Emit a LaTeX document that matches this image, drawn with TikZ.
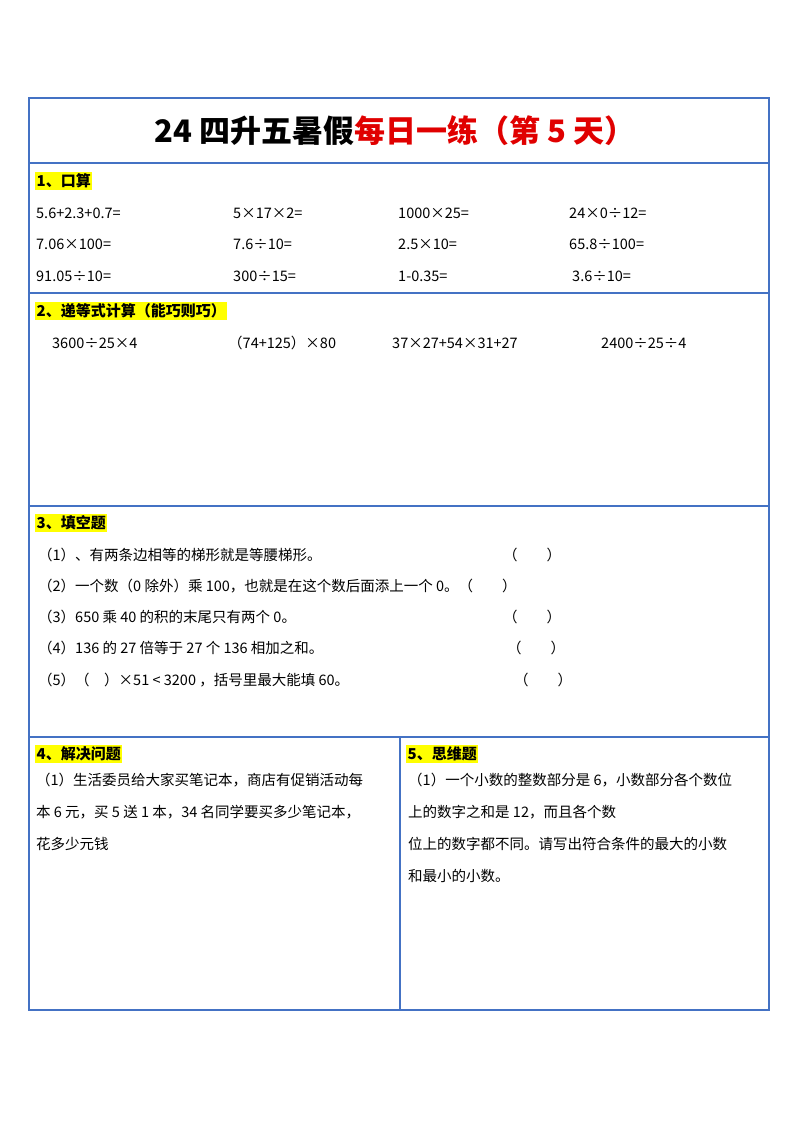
\documentclass[tikz,border=0pt]{standalone}
\usepackage{fontspec}
\setmainfont{Noto Sans CJK SC}
\definecolor{bl}{HTML}{4472C4}
\definecolor{hl}{HTML}{FFFF00}
\definecolor{rd}{HTML}{E00000}
\begin{document}
\begin{tikzpicture}[x=1pt,y=-1pt,
  hd/.style={fill=hl,inner sep=1.5pt,anchor=west,font=\fontsize{15}{17}\selectfont\bfseries},
  tx/.style={inner sep=0pt,anchor=west,font=\fontsize{14.5}{16}\selectfont},
  pp/.style={inner sep=0pt,anchor=north west,align=left,font=\fontsize{14.5}{32}\selectfont},
  bd/.style={draw=bl,line width=2.2pt}]
\useasboundingbox (0,0) rectangle (800,1132);
\draw[bd] (29,98) rectangle (769,1010);
\draw[bd] (29,163) -- (769,163);
\draw[bd] (29,293) -- (769,293);
\draw[bd] (29,506) -- (769,506);
\draw[bd] (29,737) -- (769,737);
\draw[bd] (400,737) -- (400,1010);
\node[inner sep=0pt,font=\fontsize{31}{34}\selectfont\bfseries] (title) at (395,131) {24 四升五暑假\textcolor{rd}{每日一练（第 5 天）}};
\node[hd] (h1) at (35,181) {1、口算};
\node[tx] (a1) at (36,213) {5.6+2.3+0.7=};
\node[tx] (a2) at (233,213) {5×17×2=};
\node[tx] (a3) at (398,213) {1000×25=};
\node[tx] (a4) at (569,213) {24×0÷12=};
\node[tx] (b1) at (36,244) {7.06×100=};
\node[tx] (b2) at (233,244) {7.6÷10=};
\node[tx] (b3) at (398,244) {2.5×10=};
\node[tx] (b4) at (569,244) {65.8÷100=};
\node[tx] (c1) at (36,276) {91.05÷10=};
\node[tx] (c2) at (233,276) {300÷15=};
\node[tx] (c3) at (398,276) {1-0.35=};
\node[tx] (c4) at (572,276) {3.6÷10=};
\node[hd] (h2) at (35,311) {2、递等式计算（能巧则巧）};
\node[tx] (d1) at (52,343) {3600÷25×4};
\node[tx] (d2) at (228,343) {（74+125）×80};
\node[tx] (d3) at (392,343) {37×27+54×31+27};
\node[tx] (d4) at (601,343) {2400÷25÷4};
\node[hd] (h3) at (35,523) {3、填空题};
\node[tx] (e1) at (38,555) {（1）、有两条边相等的梯形就是等腰梯形。};
\node[tx] (e1b) at (503,555) {（\qquad）};
\node[tx] (e2) at (38,586) {（2）一个数（0 除外）乘 100，也就是在这个数后面添上一个 0。（\qquad）};
\node[tx] (e3) at (38,617) {（3）650 乘 40 的积的末尾只有两个 0。};
\node[tx] (e3b) at (503,617) {（\qquad）};
\node[tx] (e4) at (38,648) {（4）136 的 27 倍等于 27 个 136 相加之和。};
\node[tx] (e4b) at (507,648) {（\qquad）};
\node[tx] (e5) at (38,680) {（5）（\quad）×51 < 3200 ，括号里最大能填 60。};
\node[tx] (e5b) at (514,680) {（\qquad）};
\node[hd] (h4) at (35,754) {4、解决问题};
\node[pp] (p4) at (36,773) {（1）生活委员给大家买笔记本，商店有促销活动每\\本 6 元，买 5 送 1 本，34 名同学要买多少笔记本，\\花多少元钱};
\node[hd] (h5) at (406,754) {5、思维题};
\node[pp] (p5) at (408,773) {（1）一个小数的整数部分是 6，小数部分各个数位\\上的数字之和是 12，而且各个数\\位上的数字都不同。请写出符合条件的最大的小数\\和最小的小数。};
\end{tikzpicture}
\end{document}
